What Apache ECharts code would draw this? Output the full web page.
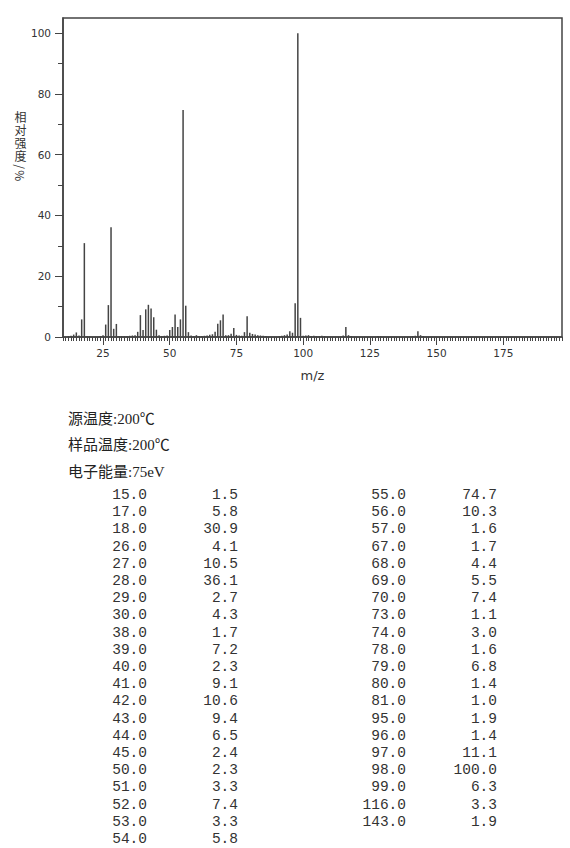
<!DOCTYPE html>
<html>
<head>
<meta charset="utf-8">
<script src="https://cdn.jsdelivr.net/npm/echarts@6/dist/echarts.min.js"></script>
<style>
  html, body { margin:0; padding:0; background:#fff; }
  #wrap { position:relative; width:570px; height:848px; overflow:hidden; }
  #chart { position:absolute; left:0; top:0; width:570px; height:848px; }
  #yname { position:absolute; left:13px; top:111px; writing-mode:vertical-rl; text-orientation:mixed; font-family:"Noto Sans CJK SC","DejaVu Sans",sans-serif; font-size:12px; line-height:14px; letter-spacing:1.3px; color:#333; white-space:nowrap; }
  .hdr { position:absolute; left:68px; font-family:"Liberation Serif","Noto Sans CJK SC",serif; font-size:15px; line-height:20px; color:#222; white-space:nowrap; }
  .cell { position:absolute; width:70px; text-align:right; font-family:"Liberation Mono","DejaVu Sans Mono",monospace; font-size:14.5px; line-height:13px; color:#333; white-space:pre; }
</style>
</head>
<body>
<div id="wrap">
  <div id="chart"></div>
  <div id="yname"></div>
  <div id="info"></div>
</div>
<script>
// ---- data ----
const peakMz = [15,17,18,26,27,28,29,30,38,39,40,41,42,43,44,45,50,51,52,53,54,
                55,56,57,67,68,69,70,73,74,78,79,80,81,95,96,97,98,99,116,143];
const peakIntensity = [1.5,5.8,30.9,4.1,10.5,36.1,2.7,4.3,1.7,7.2,2.3,9.1,10.6,9.4,6.5,2.4,2.3,3.3,7.4,3.3,5.8,
                       74.7,10.3,1.6,1.7,4.4,5.5,7.4,1.1,3.0,1.6,6.8,1.4,1.0,1.9,1.4,11.1,100.0,6.3,3.3,1.9];
// small unlisted peaks (< 1 %), estimated from the spectrum
const minorMz = [12,13,14,16,19,20,24,25,
                 31,32,33,34,35,36,37,
                 46,47,48,49,
                 58,59,60,61,62,63,64,65,66,
                 71,72,75,76,77,
                 82,83,84,85,86,
                 91,92,93,94,
                 100,101,102,103,104,105,106,107,108,
                 115,117,118,128,129,141,142,144,145];
const minorIntensity = [0.3,0.4,0.8,0.5,0.3,0.2,0.3,0.6,
                        0.3,0.3,0.2,0.3,0.4,0.5,0.6,
                        0.6,0.3,0.4,0.5,
                        0.5,0.3,0.6,0.3,0.3,0.4,0.5,0.7,0.9,
                        0.6,0.6,0.7,0.5,0.4,
                        0.8,0.6,0.5,0.4,0.3,
                        0.3,0.4,0.6,0.8,
                        0.4,0.5,0.6,0.3,0.4,0.3,0.3,0.4,0.3,
                        0.5,0.6,0.3,0.3,0.2,0.3,0.4,0.6,0.3];
const xTickLabels = [25,50,75,100,125,150,175];
const yTickLabels = [0,20,40,60,80,100];
const yMinorTicks = [10,30,50,70,90];
const yAxisName = '相对强度/%';
const xAxisName = 'm/z';
const headerLines = ['源温度:200℃','样品温度:200℃','电子能量:75eV'];
const xMin = 10, xMax = 197, yMin = 0, yMax = 105;

const xMinorTicks = [];
for (let v = xMin; v <= xMax; v++) xMinorTicks.push(v);

const barData = [];
peakMz.forEach((m, i) => barData.push([m, peakIntensity[i]]));
minorMz.forEach((m, i) => barData.push([m, minorIntensity[i]]));

const lineCol = '#444';
const labelFont = { fontFamily: 'DejaVu Sans', fontSize: 10.5, color: '#333' };

document.getElementById('yname').textContent = yAxisName;

const chart = echarts.init(document.getElementById('chart'), null, { renderer: 'svg' });
chart.setOption({
  animation: false,
  backgroundColor: '#fff',
  grid: { left: 63, right: 8, top: 18, bottom: 511, show: true, borderColor: lineCol, borderWidth: 1.5, backgroundColor: 'transparent' },
  xAxis: [
    { type: 'value', min: xMin, max: xMax, position: 'bottom',
      axisLine: { show: true, lineStyle: { color: lineCol, width: 1.5 } },
      axisTick: { show: true, customValues: xMinorTicks, length: 4, lineStyle: { color: lineCol } },
      axisLabel: Object.assign({ show: true, customValues: xTickLabels, margin: 10 }, labelFont),
      splitLine: { show: false },
      name: xAxisName, nameLocation: 'middle', nameGap: 32,
      nameTextStyle: { fontFamily: 'DejaVu Sans', fontSize: 13, color: '#333' } },
    { type: 'value', min: xMin, max: xMax, position: 'bottom',
      axisLine: { show: false },
      axisTick: { show: true, customValues: xTickLabels, length: 8, lineStyle: { color: lineCol } },
      axisLabel: { show: false }, splitLine: { show: false } }
  ],
  yAxis: [
    { type: 'value', min: yMin, max: yMax, position: 'left',
      axisLine: { show: true, lineStyle: { color: lineCol, width: 1.5 } },
      axisTick: { show: true, customValues: yTickLabels, length: 8, lineStyle: { color: lineCol } },
      axisLabel: Object.assign({ show: true, customValues: yTickLabels, margin: 12 }, labelFont),
      splitLine: { show: false } },
    { type: 'value', min: yMin, max: yMax, position: 'left',
      axisLine: { show: false },
      axisTick: { show: true, customValues: yMinorTicks, length: 5, lineStyle: { color: lineCol } },
      axisLabel: { show: false }, splitLine: { show: false } }
  ],
  series: [{
    type: 'bar', xAxisIndex: 0, yAxisIndex: 0,
    data: barData, barWidth: 1.5,
    itemStyle: { color: '#444' }, silent: true
  }]
});

// ---- text block below the chart ----
const info = document.getElementById('info');
const hdrCenters = [419, 445, 471.5];
headerLines.forEach((t, i) => {
  const d = document.createElement('div');
  d.className = 'hdr';
  d.style.top = (hdrCenters[i] - 10) + 'px';
  d.textContent = t;
  info.appendChild(d);
});
const leftRows = 21;
peakMz.forEach((m, i) => {
  const col = i < leftRows ? 0 : 1;
  const row = col === 0 ? i : i - leftRows;
  const cy = 495.5 + row * 17.2;
  const mzRight = col === 0 ? 147 : 406;
  const valRight = col === 0 ? 238 : 497;
  const a = document.createElement('div');
  a.className = 'cell';
  a.style.left = (mzRight - 70) + 'px';
  a.style.top = (cy - 6.5) + 'px';
  a.textContent = m.toFixed(1);
  info.appendChild(a);
  const b = document.createElement('div');
  b.className = 'cell';
  b.style.left = (valRight - 70) + 'px';
  b.style.top = (cy - 6.5) + 'px';
  b.textContent = peakIntensity[i].toFixed(1);
  info.appendChild(b);
});
</script>
</body>
</html>
